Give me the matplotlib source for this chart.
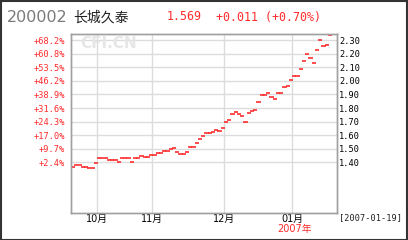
import matplotlib.pyplot as plt
from matplotlib.patches import Rectangle

plt.rcParams['font.family'] = ['DejaVu Sans', 'Noto Sans CJK SC']

# header
fund_code = '200002'
fund_name = '长城久泰'
last_nav = '1.569'
last_change = '+0.011 (+0.70%)'
end_date = '[2007-01-19]'

# trading days shown per month: Sep (tail), Oct, Nov, Dec, Jan
days_per_month = [8, 17, 22, 21, 12]
month_labels = ['10月', '11月', '12月', '01月']
year_label = '2007年'

# daily value
nav = [1.368, 1.381, 1.381, 1.368, 1.368, 1.357, 1.360, 1.393,
       1.430, 1.430, 1.430, 1.418, 1.418, 1.418, 1.405, 1.430, 1.430,
       1.430, 1.405, 1.430, 1.430, 1.449, 1.440, 1.442, 1.455,
       1.455, 1.467, 1.470, 1.486, 1.486, 1.496, 1.503, 1.479, 1.462,
       1.462, 1.475, 1.510, 1.510, 1.540, 1.570, 1.596, 1.614, 1.614,
       1.626, 1.638, 1.630, 1.650,
       1.700, 1.712, 1.760, 1.773, 1.754, 1.742, 1.695, 1.766, 1.778,
       1.785, 1.842, 1.896, 1.896, 1.908, 1.879, 1.864, 1.913, 1.913,
       1.952, 1.962, 2.010,
       2.035, 2.035, 2.085, 2.148, 2.200, 2.170, 2.128, 2.230, 2.300,
       2.258, 2.266, 2.337]

price_ticks = [1.40, 1.50, 1.60, 1.70, 1.80, 1.90, 2.00, 2.10, 2.20, 2.30]
pct_labels = ['+2.4%', '+9.7%', '+17.0%', '+24.3%', '+31.6%',
              '+38.9%', '+46.2%', '+53.5%', '+60.8%', '+68.2%']

red = '#ff2a2a'
W, H = 408, 240
fig = plt.figure(figsize=(W / 100, H / 100), dpi=100)

ax = fig.add_axes([71 / W, 27 / H, 266 / W, 179 / H])
ax2 = ax.twinx()

x = list(range(len(nav)))
ax.hlines(nav, x, [i + 1.3 for i in x], color=red, lw=1.3, alpha=0.9,
          clip_on=False, zorder=3)

ax.set_xlim(0, 81.8)
ax.set_ylim(1.028, 2.345)
ax2.set_ylim(ax.get_ylim())

month_starts = []
total = 0
for d in days_per_month[:-1]:
    total += d
    month_starts.append(total)
ax.set_xticks(month_starts, month_labels, fontsize=7)
ax.tick_params(axis='x', length=0, pad=1)

# left: percent change, right: value
ax.set_yticks(price_ticks, pct_labels, fontsize=6.2,
              family='DejaVu Sans Mono', color=red)
ax.tick_params(axis='y', length=0, pad=4.5)
ax2.set_yticks(price_ticks, ['%.2f' % v for v in price_ticks],
               fontsize=6.2, family='DejaVu Sans Mono')
ax2.tick_params(axis='y', length=0, pad=1.5)

ax.grid(True, color='#dcdcdc', lw=1)
ax.set_axisbelow(True)
for a in (ax, ax2):
    for s in a.spines.values():
        s.set_color('#a0a0a0')
        s.set_linewidth(1)

# header texts
fig.text(7 / W, 1 - 17 / H, fund_code, color='#7a7a7a', fontsize=11.5, va='center')
fig.text(73 / W, 1 - 17 / H, fund_name, color='#222222', fontsize=10,
         va='center', family='Noto Sans CJK SC')
fig.text(167 / W, 1 - 17 / H, last_nav, color=red, fontsize=8.4,
         va='center', family='DejaVu Sans Mono')
fig.text(216 / W, 1 - 17 / H, last_change, color=red, fontsize=8.4,
         va='center', family='DejaVu Sans Mono')

# watermark
fig.text(80 / W, 1 - 44 / H, 'CFI.CN', color='#e6e6e6', fontsize=11,
         weight='bold', va='center')

fig.text(295 / W, 1 - 229 / H, year_label, color=red, fontsize=7,
         ha='center', va='center')
fig.text(339 / W, 1 - 218 / H, end_date, color='#222222', fontsize=6.2,
         va='center', family='DejaVu Sans Mono')

fig.patches.append(Rectangle((0.5 / W, 0.5 / H), 1 - 1.5 / W, 1 - 1.5 / H,
                             transform=fig.transFigure, fill=False,
                             edgecolor='#333333', lw=1.5))

fig.savefig('out.png', dpi=100)
